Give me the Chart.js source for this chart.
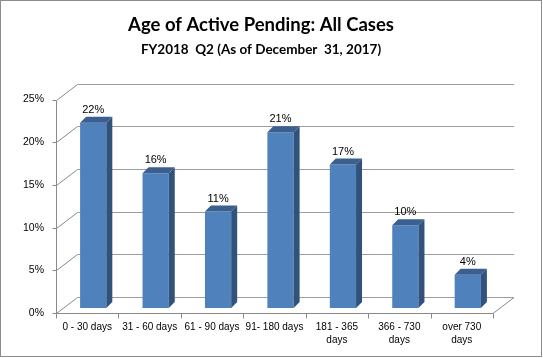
<!DOCTYPE html>
<html>
<head>
<meta charset="utf-8">
<script src="https://cdn.jsdelivr.net/npm/chart.js@4.4.0/dist/chart.umd.min.js"></script>
<style>
    html, body { margin: 0; padding: 0; background: #fff; }
</style>
</head>
<body>
<canvas id="myChart" width="543" height="358"></canvas>
<script>
const categories = ['0 - 30 days', '31 - 60 days', '61 - 90 days', '91- 180 days',
    ['181 - 365', 'days'], ['366 - 730', 'days'], ['over 730', 'days']];
const pendingShare = [21.7, 15.8, 11.3, 20.6, 16.8, 9.7, 3.9]; // percent of cases
const yTicks = [0, 5, 10, 15, 20, 25];

const titleText = 'Age of Active Pending: All Cases';
const subtitleText = 'FY2018  Q2 (As of December  31, 2017)';

// fake 3D look (Excel style)
const WALL_X = 21, WALL_Y = -16;   // back wall offset
const BAR_X = 6, BAR_Y = -5;       // bar front face sits behind the front edge
const SIDE_X = 6, SIDE_Y = -6;     // bar depth
const LINE = '#8a8a8a';

const box3d = {
    id: 'box3d',
    beforeDraw(chart) {
        const ctx = chart.ctx;
        ctx.save();
        ctx.fillStyle = '#fff';
        ctx.fillRect(0, 0, chart.width, chart.height);
        ctx.strokeStyle = '#8c8c8c';
        ctx.lineWidth = 1;
        ctx.strokeRect(0.5, 0.5, chart.width - 2, chart.height - 2);
        ctx.restore();
    },
    beforeDatasetsDraw(chart) {
        const ctx = chart.ctx;
        const a = chart.chartArea;
        const x = chart.scales.x, y = chart.scales.y;
        const left = Math.round(a.left) + 0.5;
        const bottom = Math.round(a.bottom) + 0.5;

        ctx.save();
        ctx.lineWidth = 1;

        // back wall grid lines
        ctx.strokeStyle = '#9c9c9c';
        ctx.beginPath();
        yTicks.forEach(v => {
            const py = Math.round(y.getPixelForValue(v)) + 0.5;
            ctx.moveTo(left + WALL_X, py + WALL_Y);
            ctx.lineTo(a.right + WALL_X, py + WALL_Y);
        });
        ctx.stroke();

        // side wall diagonals, axis lines, tick marks
        ctx.strokeStyle = LINE;
        ctx.beginPath();
        yTicks.forEach(v => {
            const py = Math.round(y.getPixelForValue(v)) + 0.5;
            ctx.moveTo(left - 4, py);
            ctx.lineTo(left, py);
            ctx.lineTo(left + WALL_X, py + WALL_Y);
        });
        ctx.moveTo(left, Math.round(a.top) + 0.5);
        ctx.lineTo(left, bottom);
        ctx.lineTo(a.right, bottom);
        ctx.lineTo(a.right + WALL_X, bottom + WALL_Y);
        for (let i = 0; i <= categories.length; i++) {
            const px = Math.round(x.getPixelForValue(i - 0.5)) + 0.5;
            ctx.moveTo(px, bottom);
            ctx.lineTo(px, bottom + 5);
        }
        ctx.stroke();
        ctx.restore();

        // bars get drawn shifted back a little
        ctx.save();
        ctx.translate(BAR_X, BAR_Y);
    },
    afterDatasetsDraw(chart) {
        const ctx = chart.ctx;
        const meta = chart.getDatasetMeta(0);

        meta.data.forEach(bar => {
            const p = bar.getProps(['x', 'y', 'base', 'width'], true);
            const l = p.x - p.width / 2, r = p.x + p.width / 2;

            // right side
            ctx.fillStyle = '#31527a';
            ctx.beginPath();
            ctx.moveTo(r, p.y);
            ctx.lineTo(r + SIDE_X, p.y + SIDE_Y);
            ctx.lineTo(r + SIDE_X, p.base + SIDE_Y);
            ctx.lineTo(r, p.base);
            ctx.closePath();
            ctx.fill();

            // top
            ctx.fillStyle = '#3b5f8e';
            ctx.beginPath();
            ctx.moveTo(l, p.y);
            ctx.lineTo(r, p.y);
            ctx.lineTo(r + SIDE_X, p.y + SIDE_Y);
            ctx.lineTo(l + SIDE_X, p.y + SIDE_Y);
            ctx.closePath();
            ctx.fill();
        });
        ctx.restore();

        // value labels
        ctx.save();
        ctx.fillStyle = '#000';
        ctx.font = '11px "Liberation Sans"';
        ctx.textAlign = 'center';
        ctx.textBaseline = 'middle';
        meta.data.forEach((bar, i) => {
            ctx.fillText(Math.round(pendingShare[i]) + '%', bar.x + BAR_X, bar.y + BAR_Y - 13);
        });
        ctx.restore();
    }
};

const ctx = document.getElementById('myChart').getContext('2d');

window.myChart = new Chart(ctx, {
    type: 'bar',
    data: {
        labels: categories,
        datasets: [{
            data: pendingShare,
            backgroundColor: '#4f81bd',
            borderWidth: 0,
            barPercentage: 0.42,
            categoryPercentage: 1
        }]
    },
    options: {
        responsive: false,
        devicePixelRatio: 1,
        animation: false,
        layout: {
            padding: { left: 0, right: 21, top: 0, bottom: 0 }
        },
        scales: {
            x: {
                grid: { display: false, drawTicks: false },
                border: { display: false },
                ticks: {
                    color: '#000',
                    padding: 8,
                    maxRotation: 0,
                    autoSkip: false,
                    font: { family: 'Liberation Sans', size: 10, lineHeight: 1.25 }
                },
                afterFit(scale) { scale.height = 45; }
            },
            y: {
                min: 0,
                max: 25,
                grid: { display: false, drawTicks: false },
                border: { display: false },
                ticks: {
                    stepSize: 5,
                    color: '#000',
                    padding: 12,
                    font: { family: 'Liberation Sans', size: 10.5 },
                    callback: v => v + '%'
                },
                afterFit(scale) { scale.width = 56; }
            },
            // empty room on the right for the back wall depth
            yRight: {
                position: 'right',
                grid: { display: false, drawTicks: false },
                border: { display: false },
                ticks: { display: false },
                afterFit(scale) { scale.width = 29; }
            }
        },
        plugins: {
            legend: { display: false },
            tooltip: { enabled: false },
            title: {
                display: true,
                text: titleText,
                color: '#000',
                font: { family: 'Lato', size: 18.5, weight: 'bold' },
                padding: { top: 14, bottom: 2 }
            },
            subtitle: {
                display: true,
                text: subtitleText,
                color: '#000',
                font: { family: 'Lato', size: 13.5, weight: 'bold' },
                padding: { top: 3, bottom: 42.2 }
            }
        }
    },
    plugins: [box3d]
});
</script>
</body>
</html>
